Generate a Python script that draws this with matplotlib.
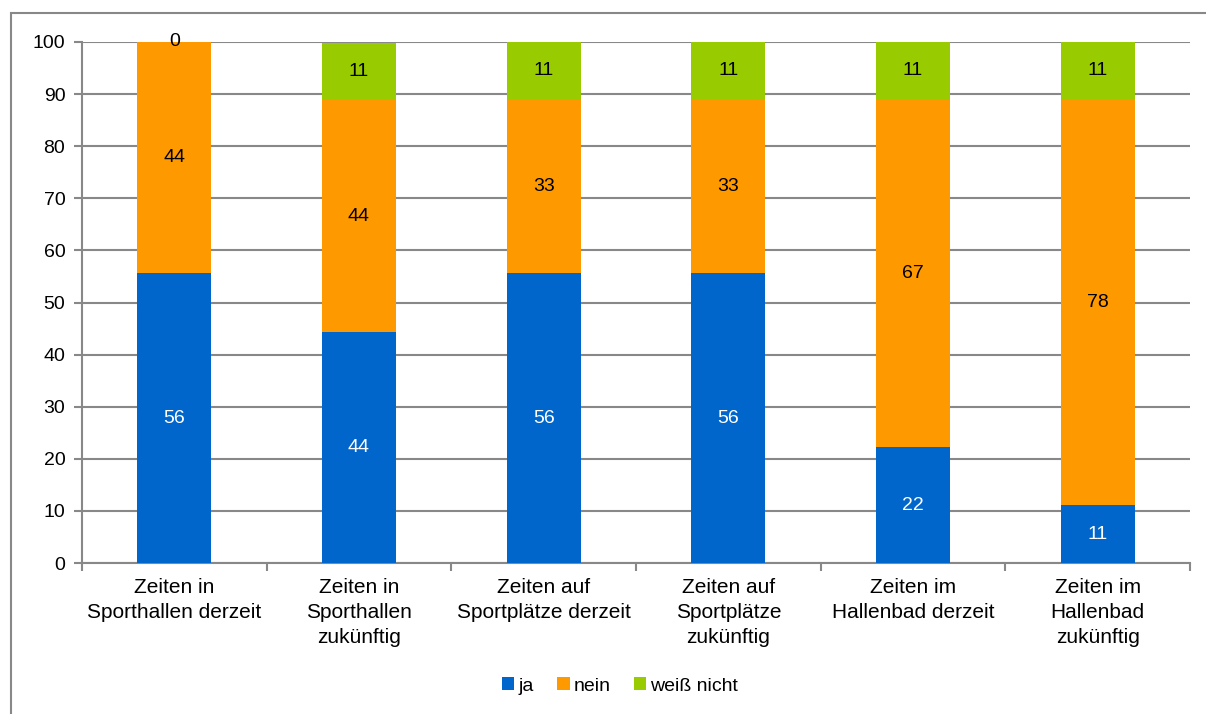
import numpy as np
import matplotlib.pyplot as plt
from matplotlib.patches import Rectangle

plt.rcParams['font.family'] = ['Liberation Sans', 'DejaVu Sans']

categories = ['Zeiten in\nSporthallen derzeit', 'Zeiten in\nSporthallen\nzukünftig',
              'Zeiten auf\nSportplätze derzeit', 'Zeiten auf\nSportplätze\nzukünftig',
              'Zeiten im\nHallenbad derzeit', 'Zeiten im\nHallenbad\nzukünftig']
ja = [55.6, 44.4, 55.6, 55.6, 22.2, 11.1]
nein = [44.4, 44.4, 33.3, 33.3, 66.7, 77.8]
weiss_nicht = [0, 11.1, 11.1, 11.1, 11.1, 11.1]
series = [('ja', ja, '#0066CC', 'white'),
          ('nein', nein, '#FF9900', 'black'),
          ('weiß nicht', weiss_nicht, '#99CC00', 'black')]

fig = plt.figure(figsize=(12.06, 7.14), dpi=100)
ax = fig.add_axes([82 / 1206, 1 - 563 / 714, (1190 - 82) / 1206, (563 - 42) / 714])

# outer chart frame
fig.patches.append(Rectangle((11 / 1206, -0.05), 1.1, 1 - 13 / 714 + 0.05,
                             transform=fig.transFigure, fill=False,
                             edgecolor='#888888', linewidth=1.5))

x = np.arange(len(categories))
bottom = np.zeros(len(categories))
for name, vals, color, tcolor in series:
    vals = np.array(vals)
    ax.bar(x, vals, 0.4, bottom=bottom, color=color, label=name, zorder=3)
    for xi, b, v in zip(x, bottom, vals):
        ax.text(xi, b + v / 2, '%d' % round(v), ha='center', va='center',
                color=tcolor, fontsize=14, zorder=4)
    bottom += vals

ax.set_xlim(-0.5, len(categories) - 0.5)
ax.set_ylim(0, 100)
ax.set_yticks(range(0, 101, 10))
ax.yaxis.grid(True, color='#888888', linewidth=1.5, zorder=0)
ax.tick_params(axis='y', length=6, width=1.5, color='#888888', labelsize=14, pad=6)
ax.set_xticks(x)
ax.set_xticklabels(categories, fontsize=15, linespacing=1.4)
ax.tick_params(axis='x', length=0, pad=11)
ax.set_xticks(np.arange(len(categories) + 1) - 0.5, minor=True)
ax.tick_params(axis='x', which='minor', length=6, width=1.5, color='#888888')
for s in ['top', 'right']:
    ax.spines[s].set_visible(False)
for s in ['left', 'bottom']:
    ax.spines[s].set_color('#888888')
    ax.spines[s].set_linewidth(1.5)

fig.legend(loc='center', bbox_to_anchor=(620 / 1206, 1 - 686 / 714), ncol=3,
           frameon=False, fontsize=14, handlelength=0.65, handleheight=0.65,
           handletextpad=0.2, columnspacing=1.2)

fig.savefig('out.png', dpi=100)
